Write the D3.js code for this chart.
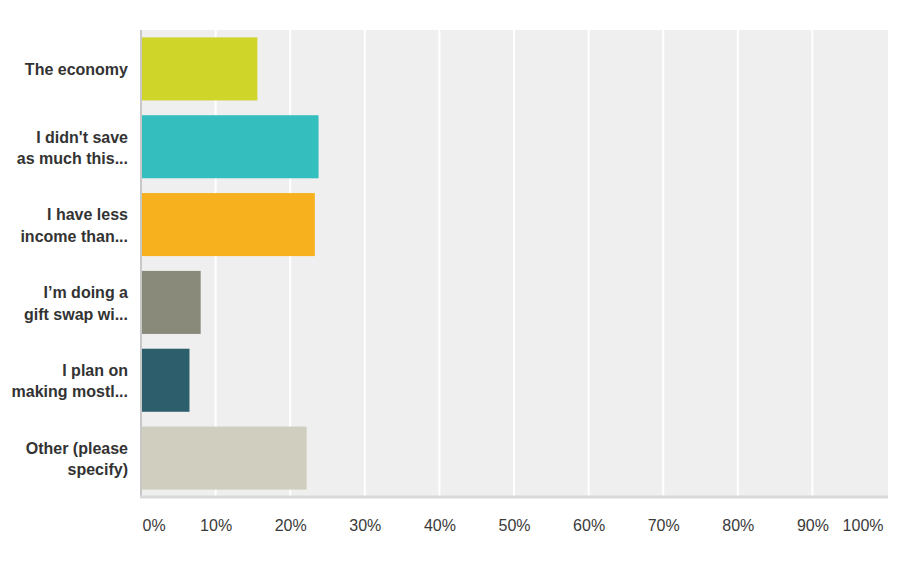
<!DOCTYPE html>
<html>
<head>
<meta charset="utf-8">
<script src="https://cdn.jsdelivr.net/npm/d3@7"></script>
<style>
  html, body { margin: 0; padding: 0; background: #ffffff; }
  svg { display: block; }
</style>
</head>
<body>
<svg id="chart" width="906" height="563"></svg>
<script>
// ---- data ----
const categories = [
  "The economy",
  "I didn't save as much this...",
  "I have less income than...",
  "I\u2019m doing a gift swap wi...",
  "I plan on making mostl...",
  "Other (please specify)"
];
const categoryLines = [
  ["The economy"],
  ["I didn't save", "as much this..."],
  ["I have less", "income than..."],
  ["I\u2019m doing a", "gift swap wi..."],
  ["I plan on", "making mostl..."],
  ["Other (please", "specify)"]
];
const values = [15.6, 23.8, 23.3, 8.0, 6.5, 22.2];
const barColors = ["#d0d52a", "#34bebd", "#f7b11e", "#8a8a7b", "#2d5e6b", "#cfcebf"];
const tickValues = [0, 10, 20, 30, 40, 50, 60, 70, 80, 90, 100];
const tickLabels = ["0%", "10%", "20%", "30%", "40%", "50%", "60%", "70%", "80%", "90%", "100%"];

// ---- layout ----
const svg = d3.select("#chart");
const plotLeft = 141, plotRight = 887, plotTop = 30, plotBottom = 497;

const x = d3.scaleLinear().domain([0, 100]).range([plotLeft, plotRight]);
const y = d3.scaleBand().domain(categories).range([plotTop, plotBottom])
  .paddingInner(0.19).paddingOuter(0.095);

// plot background
svg.append("rect")
  .attr("x", plotLeft).attr("y", plotTop)
  .attr("width", plotRight + 1 - plotLeft).attr("height", plotBottom - plotTop)
  .attr("fill", "#efefef");

// gridlines
svg.append("g").selectAll("line")
  .data(tickValues.filter(d => d > 0 && d < 100))
  .join("line")
  .attr("x1", d => x(d)).attr("x2", d => x(d))
  .attr("y1", plotTop).attr("y2", plotBottom)
  .attr("stroke", "#ffffff").attr("stroke-width", 2);

// bars
svg.append("g").selectAll("rect")
  .data(values)
  .join("rect")
  .attr("x", x(0))
  .attr("y", (d, i) => y(categories[i]))
  .attr("width", d => x(d) - x(0))
  .attr("height", y.bandwidth())
  .attr("fill", (d, i) => barColors[i]);

// left axis line
svg.append("line")
  .attr("x1", plotLeft).attr("x2", plotLeft)
  .attr("y1", plotTop).attr("y2", plotBottom)
  .attr("stroke", "#c8c8c8").attr("stroke-width", 2);

// bottom axis line
svg.append("line")
  .attr("x1", plotLeft - 1).attr("x2", plotRight + 1)
  .attr("y1", plotBottom).attr("y2", plotBottom)
  .attr("stroke", "#d9d9d9").attr("stroke-width", 3);

// x axis labels
const xAxis = d3.axisBottom(x)
  .tickValues(tickValues)
  .tickFormat((d, i) => tickLabels[i])
  .tickSize(0)
  .tickPadding(0);
const gx = svg.append("g").call(xAxis);
gx.select(".domain").remove();
gx.selectAll("text")
  .attr("y", 531)
  .attr("dy", null)
  .attr("font-family", "Arial, 'Liberation Sans', sans-serif")
  .attr("font-size", 16)
  .attr("fill", "#3a3a3a")
  .attr("text-anchor", (d, i) => i === 0 ? "start" : (i === tickValues.length - 1 ? "end" : "middle"))
  .attr("dx", (d, i) => i === 0 ? 1 : (i === tickValues.length - 1 ? -4 : 0));

// y labels
const lineH = 21.3;
const ylab = svg.append("g").selectAll("text")
  .data(categories)
  .join("text")
  .attr("text-anchor", "end")
  .attr("font-family", "Arial, 'Liberation Sans', sans-serif")
  .attr("font-size", 16)
  .attr("font-weight", "bold")
  .attr("fill", "#333333");
ylab.each(function(d, i) {
  const lines = categoryLines[i];
  const c = y(d) + y.bandwidth() / 2 + 6.5;
  const t = d3.select(this);
  lines.forEach((ln, j) => {
    t.append("tspan")
      .attr("x", 128)
      .attr("y", c + (j - (lines.length - 1) / 2) * lineH)
      .text(ln);
  });
});
</script>
</body>
</html>
